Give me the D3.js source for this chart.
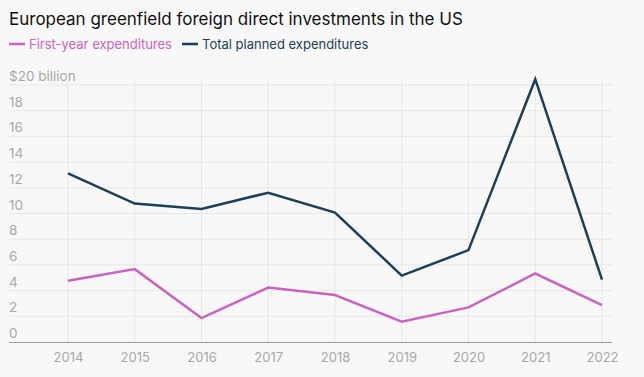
<!DOCTYPE html>
<html>
<head>
<meta charset="utf-8">
<script src="https://cdn.jsdelivr.net/npm/d3@7"></script>
<style>
  body { margin: 0; background: #f8f8f8; }
  svg { display: block; font-family: Inter, "Liberation Sans", sans-serif; }
</style>
</head>
<body>
<svg id="chart" width="644" height="377"></svg>
<script>
// data ($ billion)
var years = [2014, 2015, 2016, 2017, 2018, 2019, 2020, 2021, 2022];
var firstYear = [4.76, 5.67, 1.86, 4.24, 3.65, 1.58, 2.69, 5.33, 2.87];
var totalPlanned = [13.13, 10.77, 10.36, 11.62, 10.07, 5.17, 7.15, 20.45, 4.85];
var yTicks = [0, 2, 4, 6, 8, 10, 12, 14, 16, 18, 20];
var seriesNames = ["First-year expenditures", "Total planned expenditures"];

var pink = "#c964c0";
var navy = "#1d3f57";

var svg = d3.select("#chart");

var x = d3.scalePoint().domain(years).range([68, 602]);
var y = d3.scaleLinear().domain([0, 20]).range([342, 85]);

// title + legend
svg.append("text")
  .attr("x", 9).attr("y", 25)
  .attr("font-size", 17)
  .attr("fill", "#111")
  .text("European greenfield foreign direct investments in the US");

var legend = [
  { name: seriesNames[0], color: pink, x: 9 },
  { name: seriesNames[1], color: navy, x: 182 }
];
legend.forEach(function(l) {
  svg.append("line")
    .attr("x1", l.x).attr("x2", l.x + 16)
    .attr("y1", 44).attr("y2", 44)
    .attr("stroke", l.color).attr("stroke-width", 2.5);
  svg.append("text")
    .attr("x", l.x + 20).attr("y", 49)
    .attr("font-size", 13)
    .attr("fill", l.color)
    .text(l.name);
});

// horizontal grid
svg.append("g").selectAll("line")
  .data(yTicks.slice(1))
  .enter().append("line")
  .attr("x1", 9).attr("x2", 612)
  .attr("y1", function(d) { return y(d); })
  .attr("y2", function(d) { return y(d); })
  .attr("stroke", "#e7e7e7").attr("stroke-width", 1);

// vertical grid
svg.append("g").selectAll("line")
  .data(years)
  .enter().append("line")
  .attr("x1", function(d) { return x(d); })
  .attr("x2", function(d) { return x(d); })
  .attr("y1", 80).attr("y2", 342)
  .attr("stroke", "#e7e7e7").attr("stroke-width", 1);

// y labels sit above their gridline
svg.append("g").selectAll("text")
  .data(yTicks)
  .enter().append("text")
  .attr("x", 9)
  .attr("y", function(d) { return y(d) - 4; })
  .attr("font-size", 13.5)
  .attr("fill", "#a8a8a8")
  .text(function(d) { return d === 20 ? "$20 billion" : d; });

// x axis
var xAxis = svg.append("g")
  .attr("transform", "translate(0,342)")
  .call(d3.axisBottom(x).tickSize(0).tickPadding(11));
xAxis.select(".domain").remove();
xAxis.selectAll("text")
  .attr("font-size", 13)
  .attr("fill", "#a8a8a8")
  .attr("font-family", "Inter, sans-serif");

svg.append("line")
  .attr("x1", 9).attr("x2", 612)
  .attr("y1", 342.5).attr("y2", 342.5)
  .attr("stroke", "#9c9c9c").attr("stroke-width", 1);

// lines
var line = d3.line()
  .x(function(d, i) { return x(years[i]); })
  .y(function(d) { return y(d); });

svg.append("path")
  .datum(totalPlanned)
  .attr("d", line)
  .attr("fill", "none")
  .attr("stroke", navy)
  .attr("stroke-width", 2.5);

svg.append("path")
  .datum(firstYear)
  .attr("d", line)
  .attr("fill", "none")
  .attr("stroke", pink)
  .attr("stroke-width", 2.5);
</script>
</body>
</html>
